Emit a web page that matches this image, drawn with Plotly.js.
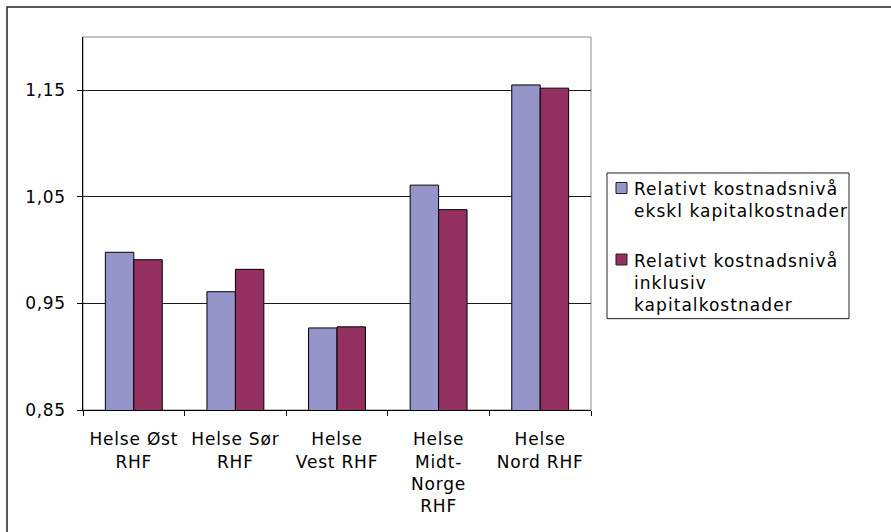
<!DOCTYPE html>
<html>
<head>
<meta charset="utf-8">
<script src="https://cdn.plot.ly/plotly-3.0.1.min.js"></script>
<style>
html,body{margin:0;padding:0;background:#fff;}
#chart{width:891px;height:532px;}
#chart .xtick text{letter-spacing:0.8px;}
#chart .ytick text{letter-spacing:0.6px;}
#chart .annotation-text{letter-spacing:1.05px;}
</style>
</head>
<body>
<div id="chart"></div>
<script>
const categories = ["Helse Øst<br>RHF", "Helse Sør<br>RHF", "Helse<br>Vest RHF", "Helse<br>Midt-<br>Norge<br>RHF", "Helse<br>Nord RHF"];
const seriesNames = ["Relativt kostnadsnivå<br>ekskl kapitalkostnader", "Relativt kostnadsnivå<br>inklusiv<br>kapitalkostnader"];
const eksklKapital = [0.998, 0.961, 0.927, 1.061, 1.155];
const inklKapital = [0.991, 0.982, 0.928, 1.038, 1.152];
const yTicks = [0.85, 0.95, 1.05, 1.15];
const seriesColors = ["#9595C9", "#933060"];

const font = {family: "DejaVu Sans, Verdana, sans-serif", size: 17, color: "#000"};

const traces = [
  {type: "bar", name: seriesNames[0], x: categories, y: eksklKapital,
   marker: {color: seriesColors[0], line: {color: "#000", width: 1}}},
  {type: "bar", name: seriesNames[1], x: categories, y: inklKapital,
   marker: {color: seriesColors[1], line: {color: "#000", width: 1}}}
];

// legend (drawn as shapes + annotations to match the original box layout)
const legendItems = [
  {sx0: 1.0492, sx1: 1.0709, sy0: 0.5804, sy1: 0.6099, ty: 0.5643},
  {sx0: 1.0492, sx1: 1.0709, sy0: 0.3887, sy1: 0.4182, ty: 0.3405}
];
const legendShapes = legendItems.map((it, i) => ({
  type: "rect", xref: "paper", yref: "paper", x0: it.sx0, x1: it.sx1, y0: it.sy0, y1: it.sy1,
  fillcolor: seriesColors[i], line: {color: "#222", width: 1}
}));
const legendAnnotations = legendItems.map((it, i) => ({
  xref: "paper", yref: "paper", x: 1.0807, y: it.ty, xanchor: "left", yanchor: "middle",
  align: "left", showarrow: false, text: seriesNames[i], font: font
}));

const layout = {
  width: 891, height: 532,
  margin: {l: 83, r: 300, t: 37, b: 122, pad: 0},
  paper_bgcolor: "#fff", plot_bgcolor: "#fff",
  font: font,
  separators: ", ",
  barmode: "group", bargap: 0.44, bargroupgap: 0,
  showlegend: false,
  xaxis: {type: "category", showline: true, linecolor: "#000", linewidth: 1,
          ticks: "outside", tickson: "boundaries", ticklen: 5, tickcolor: "#000",
          showgrid: false, tickfont: font, ticklabelstandoff: 14, fixedrange: true},
  yaxis: {range: [0.85, 1.2], tickvals: yTicks, tickformat: ".2f",
          showline: true, linecolor: "#000", linewidth: 1,
          ticks: "outside", ticklen: 5, tickcolor: "#000",
          showgrid: true, gridcolor: "#1a1a1a", gridwidth: 1,
          zeroline: false, tickfont: font, ticklabelstandoff: 8, fixedrange: true},
  annotations: legendAnnotations,
  shapes: [
    {type: "rect", xref: "paper", yref: "paper", x0: 0, x1: 1, y0: 0, y1: 1,
     line: {color: "#888", width: 1}, layer: "below"},
    {type: "rect", xref: "paper", yref: "paper", x0: 1.0315, x1: 1.5079, y0: 0.2449, y1: 0.6354,
     line: {color: "#222", width: 1}, layer: "below"},
    {type: "rect", xref: "paper", yref: "paper", x0: -0.1496, x1: 1.7, y0: -0.4, y1: 1.0804,
     line: {color: "#222", width: 1.5}, layer: "below"}
  ].concat(legendShapes)
};

Plotly.newPlot("chart", traces, layout, {displayModeBar: false, staticPlot: true});
</script>
</body>
</html>
